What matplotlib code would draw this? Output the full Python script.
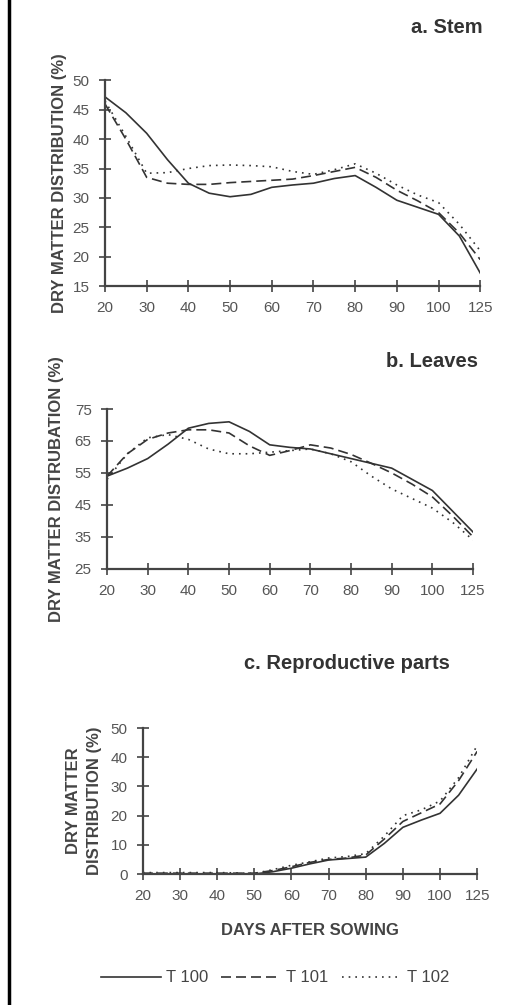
import matplotlib
matplotlib.use("Agg")
import matplotlib.pyplot as plt
from matplotlib.lines import Line2D

plt.rcParams['font.family'] = ['Liberation Sans', 'DejaVu Sans']

# categorical x axis (100 -> 125 takes the same width as the others)
days = ['20', '30', '40', '50', '60', '70', '80', '90', '100', '125']
# positions of the read values (whole steps = sampling days, half steps = read between them)
pos = [0, 0.5, 1, 1.5, 2, 2.5, 3, 3.5, 4, 4.5, 5, 5.5, 6, 6.5, 7, 7.5, 8, 8.5, 9]

# a. Stem
stem_t100 = [47.2, 44.5, 41, 36.5, 32.5, 30.8, 30.2, 30.6, 31.8, 32.2, 32.5, 33.3, 33.8, 31.8, 29.6, 28.4, 27.2, 23.5, 17.2]
stem_t101 = [46, 40, 33.5, 32.5, 32.3, 32.3, 32.6, 32.8, 33, 33.2, 33.8, 34.5, 35.2, 33.5, 31.3, 29.5, 27.5, 24, 19.5]
stem_t102 = [46.5, 40.5, 34.2, 34.3, 35, 35.5, 35.6, 35.5, 35.3, 34.5, 34, 34.8, 35.8, 34.2, 32.2, 30.5, 29.2, 25.5, 21]

# b. Leaves
leaf_t100 = [54, 56.5, 59.5, 64, 69, 70.5, 71, 68, 63.8, 63, 62.5, 61, 59.5, 58, 56.5, 53, 49.5, 43, 36.5]
leaf_t101 = [54, 61, 65.5, 67.5, 68.5, 68.5, 67.5, 63.5, 60.5, 62, 63.8, 62.8, 60.8, 58, 55, 51.5, 47.5, 41.5, 35]
leaf_t102 = [53, 61, 66, 67, 65.5, 62.5, 61, 61, 61.5, 62, 62.5, 61, 58.5, 54, 50, 47, 44, 39.5, 34]

# c. Reproductive parts
rep_t100 = [0, 0, 0, 0, 0, 0, 0, 0.8, 2, 3.5, 4.8, 5.3, 5.8, 10.5, 16, 18.5, 20.8, 27, 36]
rep_t101 = [0.3, 0.3, 0.3, 0.3, 0.3, 0.3, 0.3, 1.2, 2.5, 4, 5, 5.5, 6.5, 12, 18, 21, 24, 32, 42]
rep_t102 = [0.5, 0.5, 0.5, 0.5, 0.5, 0.4, 0.2, 1.5, 3, 4.2, 5.5, 6, 7, 13, 20, 22, 25, 33, 44]

labels = ['T 100', 'T 101', 'T 102']
styles = ['-', (0, (6, 3)), (0, (1, 3))]
ink = '#333333'
lab_kw = dict(fontsize=12, fontweight='bold', color='#444444')
title_kw = dict(fontsize=14.5, fontweight='bold', color='#333333', va='center')

fig = plt.figure(figsize=(5.12, 10.05), dpi=100)


def panel(rect, series, ylim, yticks):
    ax = fig.add_axes(rect)
    for s, ls, lab in zip(series, styles, labels):
        ax.plot(pos, s, color=ink, lw=1.2, linestyle=ls, label=lab)
    ax.set_xlim(0, 9)
    ax.set_ylim(*ylim)
    ax.set_xticks(range(len(days)))
    ax.set_xticklabels(days)
    ax.set_yticks(yticks)
    for sp in ['top', 'right']:
        ax.spines[sp].set_visible(False)
    for sp in ['left', 'bottom']:
        ax.spines[sp].set_color('#444444')
        ax.spines[sp].set_linewidth(1.6)
    ax.tick_params(direction='inout', length=8, width=1.2, color='#444444',
                   labelsize=11, labelcolor='#555555', pad=7)
    ax.patch.set_alpha(0)
    return ax


ax1 = panel([0.205, 0.7154, 0.733, 0.2046], [stem_t100, stem_t101, stem_t102], (15, 50), range(15, 51, 5))
ax1.set_ylabel('DRY MATTER DISTRIBUTION (%)', labelpad=4, **lab_kw)
fig.text(0.942, 0.973, 'a. Stem', ha='right', **title_kw)

ax2 = panel([0.209, 0.434, 0.715, 0.159], [leaf_t100, leaf_t101, leaf_t102], (25, 75), range(25, 76, 10))
ax2.set_ylabel('DRY MATTER DISTRUBATION (%)', labelpad=8, **lab_kw)
fig.text(0.934, 0.640, 'b. Leaves', ha='right', **title_kw)

ax3 = panel([0.279, 0.1303, 0.653, 0.1453], [rep_t100, rep_t101, rep_t102], (0, 50), range(0, 51, 10))
ax3.set_ylabel('DRY MATTER\nDISTRIBUTION (%)', labelpad=6, linespacing=1.5, **lab_kw)
ax3.set_xlabel('DAYS AFTER SOWING', labelpad=14, **lab_kw)
fig.text(0.678, 0.340, 'c. Reproductive parts', ha='center', **title_kw)

handles, labs = ax3.get_legend_handles_labels()
fig.legend(handles, labs, loc='center', bbox_to_anchor=(0.537, 0.027), ncol=3, frameon=False,
           handlelength=3.6, handletextpad=0.3, columnspacing=0.8, fontsize=12, labelcolor='#444444')

# black frame edge on the left of the scanned page
fig.add_artist(Line2D([0.017, 0.017], [0, 1], transform=fig.transFigure, color='black', lw=2.5))

fig.savefig('out.png', dpi=100)
